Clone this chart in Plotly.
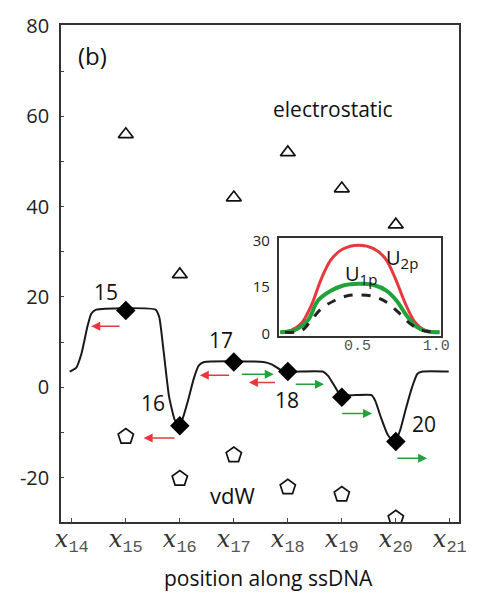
import plotly.graph_objects as go

# ---------------- data ----------------
SITES = [15, 16, 17, 18, 19, 20]
SITE_LABELS = ["15", "16", "17", "18", "20"]
SITE_LABEL_X = [14.64, 15.51, 16.76, 17.98, 20.53]
SITE_LABEL_Y = [21.1, -3.4, 10.4, -2.9, -8.2]
SITE_ENERGY = [17.0, -8.5, 5.6, 3.5, -2.2, -12.0]
ELECTROSTATIC = [56.0, 25.0, 42.0, 52.0, 44.0, 36.0]
VDW = [-10.9, -20.2, -15.0, -22.1, -23.7, -29.0]

PROFILE_X = [13.96, 14.08, 14.18, 14.29, 14.36, 14.45, 15.55, 15.62, 15.70, 15.80,
             15.90, 15.97, 16.05, 16.15, 16.26, 16.35, 16.45, 17.55, 17.70, 17.85,
             17.98, 18.65, 18.75, 18.88, 18.98, 19.55, 19.62, 19.72, 19.85, 19.98,
             20.08, 20.18, 20.30, 20.40, 20.50, 20.98]
PROFILE_Y = [3.5, 4.3, 7.5, 13.5, 16.3, 17.2, 17.2, 15.5, 8.0, -2.0,
             -7.0, -8.5, -7.0, -3.0, 2.0, 4.8, 5.6, 5.6, 5.1, 4.0,
             3.5, 3.5, 2.5, 0.0, -1.7, -1.7, -3.0, -6.5, -10.5, -12.2,
             -9.5, -5.0, 0.0, 3.0, 3.5, 3.5]

RED_TAIL_X = [14.91, 15.93, 16.94, 17.79]
RED_HEAD_X = [14.36, 15.33, 16.37, 17.28]
RED_Y = [13.5, -11.2, 2.7, 1.1]
GREEN_TAIL_X = [17.12, 18.12, 18.98, 20.00]
GREEN_HEAD_X = [17.74, 18.67, 19.56, 20.58]
GREEN_Y = [2.9, 0.7, -5.8, -15.7]

X_TICKS = [14, 15, 16, 17, 18, 19, 20, 21]
X_TICK_NUM = ["14", "15", "16", "17", "18", "19", "20", "21"]
Y_TICKS = [-20, 0, 20, 40, 60, 80]
Y_TICK_LABELS = ["-20", "0", "20", "40", "60", "80"]

# inset
U2P_X = [0.01, 0.081, 0.144, 0.206, 0.269, 0.331, 0.404, 0.508, 0.602, 0.675, 0.738, 0.80, 0.863, 0.925, 1.02]
U2P_Y = [0.3, 1.0, 3.2, 8.9, 17.4, 23.7, 27.1, 28.4, 27.3, 24.2, 17.9, 10.0, 3.7, 1.0, 0.3]
U1P_X = [0.01, 0.10, 0.185, 0.248, 0.331, 0.415, 0.508, 0.602, 0.685, 0.748, 0.81, 0.873, 0.935, 1.02]
U1P_Y = [0.3, 1.0, 4.2, 10.5, 13.7, 15.5, 16.0, 15.6, 13.7, 10.5, 5.8, 2.1, 0.7, 0.3]
UTOT_X = [0.04, 0.144, 0.206, 0.269, 0.352, 0.435, 0.508, 0.602, 0.685, 0.758, 0.831, 0.904, 1.02]
UTOT_Y = [0.3, 0.8, 4.2, 7.9, 10.5, 12.1, 12.4, 11.9, 10.0, 6.8, 3.2, 1.0, 0.3]
INSET_X_TICKS = [0.5, 1.0]
INSET_X_LABELS = ["0.5", "1.0"]
INSET_Y_TICKS = [0, 15, 30]
INSET_Y_LABELS = ["0", "15", "30"]

SANS = "Open Sans"
RED = "#e8383d"
GREEN = "#1fa33a"
TXT = "#111"

fig = go.Figure()

fig.add_trace(go.Scatter(x=PROFILE_X, y=PROFILE_Y, mode="lines",
                         line=dict(color="#1a1a1a", width=2, shape="spline", smoothing=0.5),
                         showlegend=False, hoverinfo="skip"))
fig.add_trace(go.Scatter(x=SITES, y=ELECTROSTATIC, mode="markers",
                         marker=dict(symbol="triangle-up-open", size=13, color="#111",
                                     line=dict(width=1.7, color="#111")),
                         showlegend=False))
fig.add_trace(go.Scatter(x=SITES, y=VDW, mode="markers",
                         marker=dict(symbol="pentagon-open", size=16, color="#111",
                                     line=dict(width=1.7, color="#111")),
                         showlegend=False))
fig.add_trace(go.Scatter(x=SITES, y=SITE_ENERGY, mode="markers",
                         marker=dict(symbol="diamond", size=15, color="#000"),
                         showlegend=False))

# inset curves
fig.add_trace(go.Scatter(x=U2P_X, y=U2P_Y, mode="lines", xaxis="x2", yaxis="y2",
                         line=dict(color=RED, width=3, shape="spline"), showlegend=False))
fig.add_trace(go.Scatter(x=U1P_X, y=U1P_Y, mode="lines", xaxis="x2", yaxis="y2",
                         line=dict(color=GREEN, width=4, shape="spline"), showlegend=False))
fig.add_trace(go.Scatter(x=UTOT_X, y=UTOT_Y, mode="lines", xaxis="x2", yaxis="y2",
                         line=dict(color="#222", width=3, dash="dash", shape="spline"),
                         showlegend=False))

ann = []
for t, x, y in zip(SITE_LABELS, SITE_LABEL_X, SITE_LABEL_Y):
    ann.append(dict(x=x, y=y, xref="x", yref="y", text=t, showarrow=False,
                    font=dict(family=SANS, size=21, color=TXT)))
for tx, hx, y in zip(RED_TAIL_X, RED_HEAD_X, RED_Y):
    ann.append(dict(x=hx, y=y, ax=tx, ay=y, xref="x", yref="y", axref="x", ayref="y",
                    text="", showarrow=True, arrowhead=2, arrowsize=1.2, arrowwidth=1.5,
                    arrowcolor=RED))
for tx, hx, y in zip(GREEN_TAIL_X, GREEN_HEAD_X, GREEN_Y):
    ann.append(dict(x=hx, y=y, ax=tx, ay=y, xref="x", yref="y", axref="x", ayref="y",
                    text="", showarrow=True, arrowhead=2, arrowsize=1.2, arrowwidth=1.5,
                    arrowcolor=GREEN))
ann += [
    dict(x=18.83, y=61.5, xref="x", yref="y", text="electrostatic", showarrow=False,
         font=dict(family=SANS, size=21, color=TXT)),
    dict(x=16.97, y=-23.9, xref="x", yref="y", text="vdW", showarrow=False,
         font=dict(family=SANS, size=22, color=TXT)),
    dict(x=14.38, y=73.5, xref="x", yref="y", text="(b)", showarrow=False,
         font=dict(family=SANS, size=24, color=TXT)),
    dict(x=0.522, y=-0.112, xref="paper", yref="paper", text="position along ssDNA",
         showarrow=False, yanchor="middle", xanchor="center",
         font=dict(family=SANS, size=21, color=TXT)),
    dict(x=0.779, y=24.2, xref="x2", yref="y2",
         text="U<sub><span style='font-size:15px'>2p</span></sub>", showarrow=False,
         font=dict(family=SANS, size=20, color=TXT)),
    dict(x=0.519, y=18.9, xref="x2", yref="y2",
         text="U<sub><span style='font-size:15px'>1p</span></sub>", showarrow=False,
         font=dict(family=SANS, size=20, color=TXT)),
]

x_ticktext = ["<i>x</i><sub><span style='font-family:Liberation Mono;font-size:17px;color:#555'>%s</span></sub>" % n
              for n in X_TICK_NUM]

fig.update_layout(
    width=480, height=594,
    margin=dict(l=61, r=15, t=16, b=72),
    paper_bgcolor="white", plot_bgcolor="white",
    showlegend=False,
    annotations=ann,
    xaxis=dict(range=[13.8, 21.17], domain=[0, 1], tickvals=X_TICKS, ticktext=x_ticktext,
               ticks="inside", ticklen=4, tickcolor="#444", showline=True, mirror=True,
               linecolor="#333", linewidth=1.6, showgrid=False, zeroline=False,
               ticklabelstandoff=-6,
               tickfont=dict(family="DejaVu Serif", size=24, color="#333")),
    yaxis=dict(range=[-29.8, 80.2], domain=[0, 1], tickvals=Y_TICKS, ticktext=Y_TICK_LABELS,
               ticks="inside", ticklen=3, tickcolor="#444", showline=True, mirror=True,
               linecolor="#333", linewidth=1.6, showgrid=False, zeroline=False,
               ticklabelstandoff=6,
               minor=dict(dtick=10, ticks="inside", ticklen=3, tickcolor="#444"),
               tickfont=dict(family=SANS, size=20, color="#222")),
    xaxis2=dict(domain=[0.547, 0.955], anchor="y2", range=[0, 1.03],
                tickvals=INSET_X_TICKS, ticktext=INSET_X_LABELS, ticks="",
                showline=True, mirror=True, linecolor="#333", linewidth=1.5,
                showgrid=False, zeroline=False, ticklabelstandoff=-6,
                tickfont=dict(family="Liberation Mono", size=15, color="#555")),
    yaxis2=dict(domain=[0.3735, 0.5705], anchor="x2", range=[-1, 30.6],
                tickvals=INSET_Y_TICKS, ticktext=INSET_Y_LABELS, ticks="",
                showline=True, mirror=True, linecolor="#333", linewidth=1.5,
                showgrid=False, zeroline=False, ticklabelstandoff=4,
                tickfont=dict(family=SANS, size=15, color="#222")),
)

fig.write_html("out.html")
